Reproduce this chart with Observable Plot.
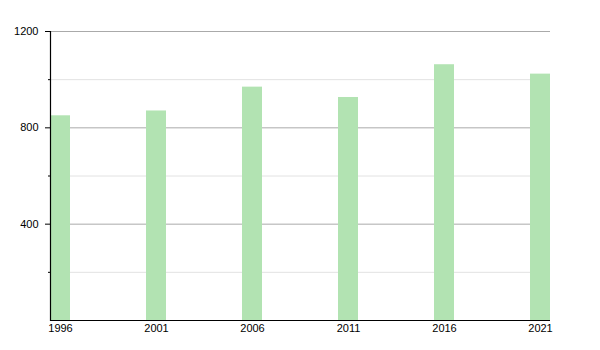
<!DOCTYPE html>
<html>
<head>
<meta charset="utf-8">
<script src="https://cdn.jsdelivr.net/npm/d3@7"></script>
<script src="https://cdn.jsdelivr.net/npm/@observablehq/plot@0.6"></script>
<style>
  html, body { margin: 0; padding: 0; background: #fff; }
  #chart { width: 600px; height: 350px; }
</style>
</head>
<body>
<div id="chart"></div>
<script>
const years = ["1996", "2001", "2006", "2011", "2016", "2021"];
const population = [850, 870, 969, 926, 1062, 1023];
const majorTicks = [400, 800, 1200];
const minorTicks = [200, 600, 1000];

const data = years.map((y, i) => ({year: y, value: population[i]}));

const chart = Plot.plot({
  width: 600,
  height: 350,
  marginLeft: 50,
  marginRight: 50,
  marginTop: 31,
  marginBottom: 30,
  style: {fontFamily: "Liberation Sans, Arial, sans-serif", fontSize: "11px", color: "#000", background: "#fff"},
  x: {type: "band", domain: years, paddingInner: 76 / 96, paddingOuter: 0, align: 0, label: null},
  y: {domain: [0, 1200], label: null},
  marks: [
    Plot.ruleY(minorTicks, {stroke: "#e2e2e2", strokeWidth: 1}),
    Plot.ruleY(majorTicks, {stroke: "#aaaaaa", strokeWidth: 1}),
    Plot.barY(data, {x: "year", y: "value", fill: "#b2e3b2"}),
    Plot.axisY(majorTicks, {tickSize: 5, tickPadding: 7, tickFormat: "d", stroke: "#000", fill: "#000", label: null}),
    Plot.axisY(minorTicks, {tickSize: 2, tickFormat: () => "", stroke: "#000", label: null}),
    Plot.axisX({tickSize: 0, tickPadding: 4, fill: "#000", label: null}),
    Plot.ruleY([0], {stroke: "#000", strokeWidth: 1.2}),
    Plot.frame({anchor: "left", stroke: "#000", strokeWidth: 1.2})
  ]
});
document.getElementById("chart").appendChild(chart);
</script>
</body>
</html>
